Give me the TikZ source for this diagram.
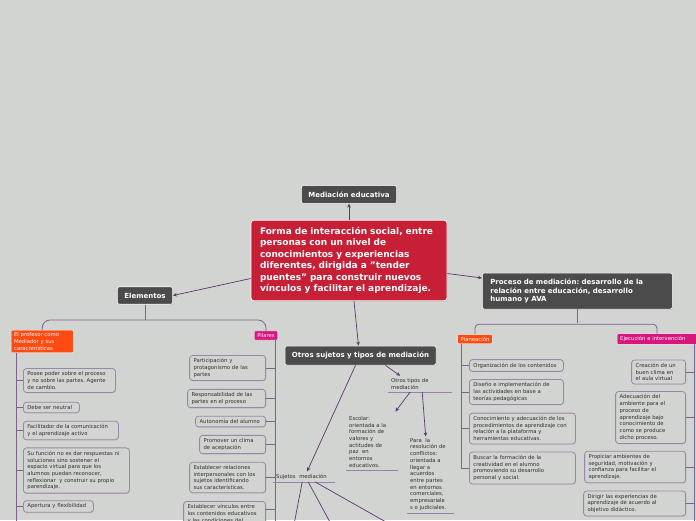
\documentclass[tikz,border=0pt]{standalone}
\usepackage{fontspec}
\setmainfont{DejaVu Sans}
\usepackage{xcolor}
\usepackage{tikz}
\usetikzlibrary{positioning,arrows.meta,shadows}
\definecolor{bgcolor}{HTML}{D2D4D1}
\definecolor{topiccolor}{HTML}{4B4B4B}
\definecolor{maincolor}{HTML}{C61F36}
\definecolor{orangetag}{HTML}{FF4A12}
\definecolor{magentatag}{HTML}{D6177E}
\definecolor{arrowcolor}{HTML}{5A3770}
\definecolor{treecolor}{HTML}{7D6290}
\definecolor{leafline}{HTML}{9A86A8}
\definecolor{ulinecolor}{HTML}{9A80AE}
\definecolor{leaftext}{HTML}{2E2E2E}
\frenchspacing
\newcommand\leaffnt{\fontsize{5.3}{6.7}\selectfont\hyphenpenalty=10000\relax}
\tikzset{
  mm central/.style={
    rectangle,
    rounded corners=3pt,
    fill=maincolor,
    draw=white,
    line width=0.7pt,
    text=white,
    align=left,
    text width=178pt,
    inner xsep=9pt,
    inner ysep=7pt,
    font=\fontsize{9}{11.5}\selectfont\bfseries,
    drop shadow={opacity=0.25,shadow xshift=0.6pt,shadow yshift=-0.8pt}
  },
  mm topic/.style={
    rectangle,
    rounded corners=2pt,
    fill=topiccolor,
    draw=white,
    line width=0.6pt,
    text=white,
    align=left,
    inner xsep=7pt,
    inner ysep=6pt,
    font=\fontsize{7}{8.5}\selectfont\bfseries,
    drop shadow={opacity=0.25,shadow xshift=0.6pt,shadow yshift=-0.8pt}
  },
  mm tag/.style={
    rectangle,
    rounded corners=1pt,
    draw=white!60,
    line width=0.3pt,
    text=white,
    align=left,
    inner xsep=3pt,
    inner ysep=2.5pt,
    font=\fontsize{5.3}{6.7}\selectfont
  },
  mm leaf/.style={
    rectangle,
    rounded corners=3pt,
    fill=bgcolor,
    draw=leafline,
    line width=0.8pt,
    text=leaftext,
    align=left,
    inner xsep=4pt,
    inner ysep=3.2pt,
    font=\leaffnt,
    drop shadow={opacity=0.2,shadow xshift=0.5pt,shadow yshift=-0.8pt}
  },
  mm label/.style={
    text=leaftext,
    align=left,
    inner xsep=3pt,
    inner ysep=2.5pt,
    font=\leaffnt
  },
  arrow/.style={
    -{Stealth[length=4pt,width=3.6pt]},
    draw=arrowcolor,
    line width=0.7pt
  },
  tree line/.style={draw=treecolor,line width=0.8pt},
  under line/.style={draw=ulinecolor,line width=0.9pt}
}
\begin{document}
\begin{tikzpicture}[x=1pt,y=-1pt]
  % Concept map: mediacion educativa
  \fill[bgcolor] (0,0) rectangle (696,520);
  \useasboundingbox (0,0) rectangle (696,520);

  \node[mm topic] (med) at (349,194.5) {Mediación educativa};
  \node[mm central] (main) at (349,260.5) {Forma de interacción social, entre\\personas con un nivel de\\conocimientos y experiencias\\diferentes, dirigida a "tender\\puentes" para construir nuevos\\vínculos y facilitar el aprendizaje.};
  \node[mm topic] (elem) at (145,295.5) {Elementos};
  \node[mm topic,anchor=west,text width=174pt,inner xsep=8pt] (proc) at (482,291) {Proceso de mediación: desarrollo de la\\relación entre educación, desarrollo\\humano y AVA};
  \node[mm topic] (otros) at (360.5,355.5) {Otros sujetos y tipos de mediación};

  \draw[arrow] (main) -- (med);
  \draw[arrow] ([yshift=-18pt]main.west) -- (elem.east);
  \draw[arrow] ([yshift=-13pt]main.east) -- ([yshift=13pt]proc.west);
  \draw[arrow] ([xshift=5pt]main.south) -- ([xshift=-2pt]otros.north);

  % Elementos
  \node[mm tag,fill=orangetag,anchor=north west,text width=56pt] (prof) at (11,330) {El profesor como\\Mediador y sus\\características};
  \node[mm tag,fill=magentatag] (pil) at (266,335.5) {Pilares};
  \draw[tree line] (elem.south) -- ++(0,15);
  \draw[tree line,rounded corners=8pt] (prof.north) -- ++(0,-10) -| (pil.north);

  \coordinate (profend) at (16,522);
  \node[mm leaf,anchor=west,text width=84pt] (l1) at (23,380.5) {Posee poder sobre el proceso\\y no sobre las partes. Agente\\de cambio.};
  \node[mm leaf,anchor=west,text width=48pt] (l2) at (23,407.5) {Debe ser neutral};
  \node[mm leaf,anchor=west,text width=87pt] (l3) at (23,430.5) {Facilitador de la comunicación\\y el aprendizaje activo};
  \node[mm leaf,anchor=west,text width=98pt] (l4) at (23,470.5) {Su función no es dar respuestas ni\\soluciones sino sostener el\\espacio virtual para que los\\alumnos puedan reconocer,\\reflexionar~ y construir su propio\\parendizaje.};
  \node[mm leaf,anchor=west,text width=62pt] (l5) at (23,506.5) {Apertura y flexibilidad};
  \draw[tree line] (prof.south -| profend) -- (profend);
  \foreach \n in {l1,l2,l3,l4,l5}
    \draw[tree line] (\n.west) -- (\n.west -| profend);

  \coordinate (pilend) at (275,522);
  \node[mm leaf,anchor=east,text width=68pt] (q1) at (266,368) {Participación y\\protagonismo de las\\partes};
  \node[mm leaf,anchor=east,text width=70pt] (q2) at (266,398.5) {Responsabilidad de las\\partes en el proceso};
  \node[mm leaf,anchor=east,text width=62pt] (q3) at (266,421.5) {Autonomía del alumno};
  \node[mm leaf,anchor=east,text width=58pt] (q4) at (266,444.5) {Promover un clima\\de aceptación};
  \node[mm leaf,anchor=east,text width=68pt] (q5) at (266,477.5) {Establecer relaciones\\interpersonales con los\\sujetos identificando\\sus características.};
  \node[mm leaf,anchor=north east,text width=74pt] (q6) at (266,501) {Establecer vínculos entre\\los contenidos educativos\\y las condiciones del};
  \draw[tree line] (pil.south -| pilend) -- (pilend);
  \foreach \n in {q1,q2,q3,q4,q5}
    \draw[tree line] (\n.east) -- (\n.east -| pilend);
  \draw[tree line] ([yshift=-8pt]q6.north east) -- ([yshift=-8pt]q6.north east -| pilend);

  % Otros sujetos y tipos
  \node[mm label,anchor=south west,text width=56pt] (suj) at (273,482) {Sujetos~~mediación};
  \node[mm label,anchor=south west,text width=58pt] (otrost) at (388,392) {Otros tipos de\\mediación};
  \node[mm label,anchor=south west,text width=46pt] (esc) at (346,470) {Escolar:\\orientada a la\\formación de\\valores y\\actitudes de\\paz~ en\\entornos\\educativos.};
  \node[mm label,anchor=south west,text width=41pt] (para) at (407,513) {Para~ la\\resolución de\\conflictos:\\orientada a\\llegar a\\acuerdos\\entre partes\\en entornos\\comerciales,\\empresariale\\s o judiciales.};
  \foreach \n in {suj,otrost,esc,para}
    \draw[under line] (\n.south west) -- (\n.south east);

  \draw[arrow] ([xshift=-5pt]otros.south) -- ([xshift=3pt]suj.north);
  \draw[arrow] ([xshift=25pt]otros.south) -- ([xshift=-20pt]otrost.north);
  \draw[arrow] ([xshift=-10pt]otrost.south) -- ([xshift=-3pt,yshift=2pt]esc.north east);
  \draw[arrow] ([xshift=2pt]otrost.south) -- ([xshift=-5pt,yshift=-1pt]para.north);

  \coordinate (sa) at (292,535);
  \coordinate (sb) at (337,535);
  \coordinate (sc) at (409,535);
  \draw[arrow] ([xshift=-2pt]suj.south) -- (sa);
  \draw[arrow] ([xshift=4pt]suj.south) -- (sb);
  \draw[arrow] ([xshift=11pt]suj.south) -- (sc);

  % Proceso de mediacion
  \node[mm tag,fill=orangetag] (plan) at (475,339) {Planeación};
  \node[mm tag,fill=magentatag,anchor=west,text width=80pt] (ejec) at (617,339) {Ejecución e intervención};
  \draw[tree line] (proc.south) -- ++(0,14);
  \draw[tree line,rounded corners=4pt] (plan.north) -- ++(0,-10) -| (ejec.north -| 657,0);

  \coordinate (planx) at (461,0);
  \node[mm leaf,anchor=west,text width=86pt] (p1) at (469,365.5) {Organización de los contenidos};
  \node[mm leaf,anchor=west,text width=86pt] (p2) at (469,392) {Diseño e implementación de\\las actividades en base a\\teorías pedagógicas};
  \node[mm leaf,anchor=west,text width=98pt] (p3) at (469,428.5) {Conocimiento y adecuación de los\\procedimientos de aprendizaje con\\relación a la plataforma y\\herramientas educativas.};
  \node[mm leaf,anchor=west,text width=98pt] (p4) at (469,468) {Buscar la formación de la\\creatividad en el alumno\\promoviendo su desarrollo\\personal y social.};
  \draw[tree line] (plan.south -| planx) -- (p4.west -| planx);
  \foreach \n in {p1,p2,p3,p4}
    \draw[tree line] (\n.west) -- (\n.west -| planx);

  \coordinate (ejecend) at (694,522);
  \node[mm leaf,anchor=east,text width=46pt] (e1) at (686,372) {Creación de un\\buen clima en\\el aula virtual};
  \node[mm leaf,anchor=east,text width=62pt] (e2) at (686,417.5) {Adecuación del\\ambiente para el\\proceso de\\aprendizaje bajo\\conocimiento de\\como se produce\\dicho proceso.};
  \node[mm leaf,anchor=east,text width=93pt] (e3) at (686,467) {Propiciar ambientes de\\seguridad, motivación y\\confianza para facilitar el\\aprendizaje.};
  \node[mm leaf,anchor=east,text width=94pt] (e4) at (686,503.5) {Dirigir las experiencias de\\aprendizaje de acuerdo al\\objetivo didáctico.};
  \draw[tree line] (ejec.south -| ejecend) -- (ejecend);
  \foreach \n in {e1,e2,e3,e4}
    \draw[tree line] (\n.east) -- (\n.east -| ejecend);
\end{tikzpicture}
\end{document}
